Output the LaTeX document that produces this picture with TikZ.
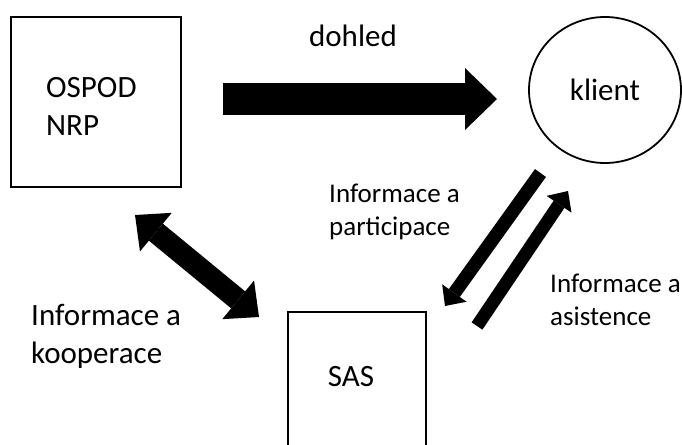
\documentclass[tikz,border=0pt]{standalone}
\usepackage{fontspec}
\setmainfont{Carlito}
\usetikzlibrary{arrows.meta,shapes.geometric}
\begin{document}
\begin{tikzpicture}[x=1pt,y=-1pt,
  box/.style={draw=black, line width=1.8pt, inner sep=0pt},
  lbl/.style={inner sep=0pt, align=left, anchor=base west},
  big/.style={font=\fontsize{31}{38}\selectfont},
  small/.style={font=\fontsize{27}{33.5}\selectfont},
]
\useasboundingbox (0,0) rectangle (682,444);
\clip (0,0) rectangle (682,444);
% boxes
\node[box, minimum width=170pt, minimum height=170pt] (ospod) at (96,102) {};
\node[box, ellipse, minimum width=152pt, minimum height=146pt, big] (klient) at (605,90) {klient};
\node[box, minimum width=138pt, minimum height=160pt] (sas) at (357,392) {};
% texts (multi-line nodes: base = last line)
\node[lbl, big] (ospodtext) at (46,135) {OSPOD\\NRP};
\node[lbl, big, anchor=base] (sastext) at (351,386) {SAS};
\node[lbl, big, anchor=base] (dohled) at (353,47) {dohled};
\node[lbl, big] (kooptext) at (31,363) {Informace a\\kooperace};
\node[lbl, small] (partext) at (329,235.5) {Informace a\\participace};
\node[lbl, small] (asistext) at (550,325.5) {Informace a\\asistence};
% arrow end points
\coordinate (d1) at (223,99);
\coordinate (d2) at (497,99);
\coordinate (k1) at (135,215);
\coordinate (k2) at (259,317);
\coordinate (p1) at (540.5,173);
\coordinate (p2) at (445,306);
\coordinate (a1) at (477,326);
\coordinate (a2) at (568,191);
% arrows
\draw[line width=32pt, -{Triangle[length=32pt,width=62pt,line width=0pt]}] (d1) -- (d2);
\draw[line width=22pt, {Triangle[length=27pt,width=50pt,line width=0pt]}-{Triangle[length=27pt,width=50pt,line width=0pt]}] (k1) -- (k2);
\draw[line width=13.5pt, -{Triangle[length=16pt,width=30pt,line width=0pt]}] (p1) -- (p2);
\draw[line width=13pt, -{Triangle[length=16pt,width=30pt,line width=0pt]}] (a1) -- (a2);
\end{tikzpicture}
\end{document}
